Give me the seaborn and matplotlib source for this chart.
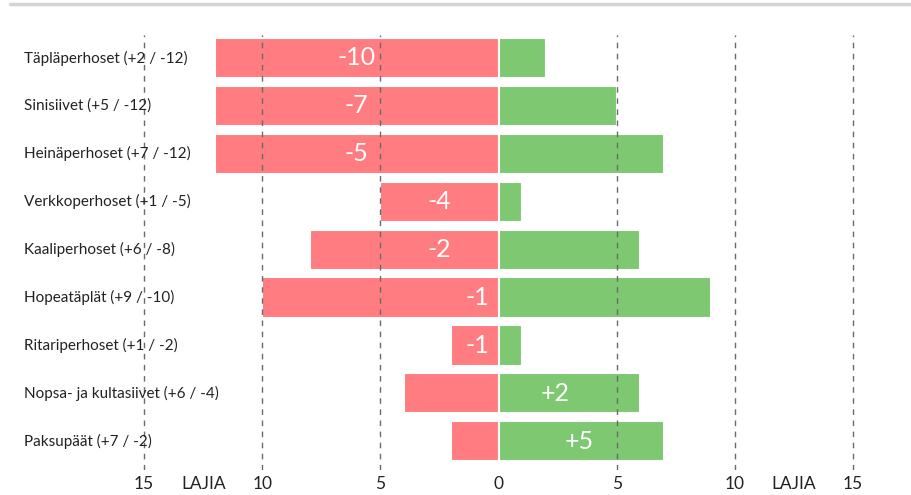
import matplotlib
matplotlib.use('Agg')
import matplotlib.pyplot as plt
import seaborn as sns
import numpy as np
import pandas as pd
from matplotlib.lines import Line2D

# species groups and species counts (gained / lost)
groups = ['Täpläperhoset', 'Sinisiivet', 'Heinäperhoset', 'Verkkoperhoset',
          'Kaaliperhoset', 'Hopeatäplät', 'Ritariperhoset',
          'Nopsa- ja kultasiivet', 'Paksupäät']
gains = [2, 5, 7, 1, 6, 9, 1, 6, 7]
losses = [12, 12, 12, 5, 8, 10, 2, 4, 2]
net_label_x = [-6.0, -6.0, -6.0, -2.5, -2.5, -0.9, -0.9, 2.4, 3.4]

tick_pos = [-15, -12.5, -10, -5, 0, 5, 10, 12.5, 15]
tick_text = ['15', 'LAJIA', '10', '5', '0', '5', '10', 'LAJIA', '15']
grid_pos = [-15, -10, -5, 5, 10, 15]

RED = '#ff7c80'
GREEN = '#7dc870'

sns.set_style('white')
plt.rcParams['font.family'] = ['Lato', 'DejaVu Sans']

df = pd.DataFrame({'group': groups, 'gain': gains,
                   'loss': [-v for v in losses]})
df['net'] = df['gain'] + df['loss']

fig = plt.figure(figsize=(9.12, 4.95), dpi=100)
ax = fig.add_axes([0, 25 / 495, 1, 435 / 495])

sns.barplot(data=df, x='loss', y='group', orient='h', color=RED, saturation=1,
            width=0.84, edgecolor='white', linewidth=1.5, ax=ax, zorder=2)
sns.barplot(data=df, x='gain', y='group', orient='h', color=GREEN, saturation=1,
            width=0.84, edgecolor='white', linewidth=1.5, ax=ax, zorder=2)

for g in grid_pos:
    ax.axvline(g, color='#6a6a6a', linestyle=(0, (4, 4)), linewidth=1.0, zorder=3)

for i, row in df.iterrows():
    ax.text(-20.1, i, f"{row['group']} (+{row['gain']} / {row['loss']})",
            ha='left', va='center', fontsize=11, color='#222222', zorder=4)
    net = row['net']
    lab = f'+{net}' if net > 0 else str(net)
    ax.text(net_label_x[i], i, lab, ha='center', va='center',
            fontsize=18, color='white', zorder=4)

ax.set_xlim(-21.1, 17.5)
ax.set_ylim(8.6, -0.48)
ax.set_xticks(tick_pos)
ax.set_xticklabels(tick_text, fontsize=12.5, color='#222222')
ax.tick_params(axis='x', length=0, pad=4)
ax.set_yticks([])
ax.set_xlabel('')
ax.set_ylabel('')
sns.despine(ax=ax, left=True, bottom=True)

fig.add_artist(Line2D([10 / 912, 1], [1 - 4 / 495, 1 - 4 / 495],
                      color='#d4d4d4', linewidth=2.5))

fig.savefig('out.png', dpi=100)
